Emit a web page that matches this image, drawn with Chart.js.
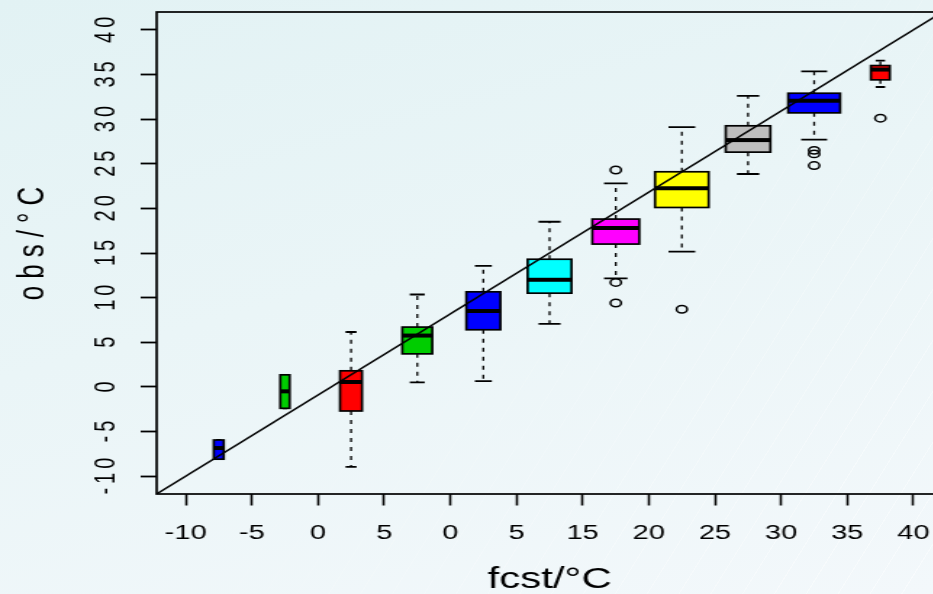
<!DOCTYPE html>
<html>
<head>
<meta charset="utf-8">
<script src="https://cdn.jsdelivr.net/npm/chart.js@4/dist/chart.umd.min.js"></script>
<style>
  html, body { margin: 0; padding: 0; width: 933px; height: 594px; overflow: hidden; }
  body { position: relative; background: linear-gradient(165deg, #e2f2f4 0%, #eaf5f7 45%, #f3f8fb 100%); }
  #streaks {
    position: absolute; left: 0; top: 0; width: 933px; height: 594px;
    background: repeating-linear-gradient(-58deg, rgba(255,255,255,0) 0 26px, rgba(255,255,255,0.45) 26px 27px);
    -webkit-mask-image: linear-gradient(135deg, rgba(0,0,0,0) 45%, rgba(0,0,0,1) 100%);
    mask-image: linear-gradient(135deg, rgba(0,0,0,0) 45%, rgba(0,0,0,1) 100%);
  }
  /* the original plot is stretched sideways, so draw narrow and scale it */
  #wrap { position: absolute; left: 0; top: 0; width: 660px; height: 594px; transform: scaleX(1.45); transform-origin: 0 0; }
</style>
</head>
<body>
<div id="streaks"></div>
<div id="wrap"><canvas id="canvas" width="660" height="594"></canvas></div>
<script>
// axis ticks (labels exactly as printed on the plot)
var xLabels = ['-10', '-5', '0', '5', '0', '5', '15', '20', '25', '30', '35', '40'];
var xTickVals = [-10, -5.45, -0.91, 3.64, 8.18, 12.73, 17.27, 21.82, 26.36, 30.91, 35.45, 40];
var yTickVals = [-10, -5, 0, 5, 10, 15, 20, 25, 30, 35, 40];

// one box per fcst class
var xCenters = [-7.73, -3.18, 1.36, 5.91, 10.45, 15.0, 19.55, 24.09, 28.64, 33.18, 37.73];
var lowW  = [-8.1, -2.4, -8.95, 0.5, 0.65, 7.05, 12.15, 15.15, 23.85, 27.7, 33.6];
var q1    = [-8.1, -2.4, -2.7, 3.7, 6.4, 10.5, 16.0, 20.1, 26.3, 30.7, 34.4];
var med   = [-6.85, -0.5, 0.55, 5.75, 8.5, 12.0, 17.8, 22.25, 27.65, 32.05, 35.55];
var q3    = [-5.95, 1.35, 1.8, 6.7, 10.65, 14.3, 18.8, 24.1, 29.25, 32.9, 36.0];
var highW = [-5.95, 1.35, 6.15, 10.35, 13.55, 18.5, 22.8, 29.1, 32.6, 35.35, 36.55];
var outliers = [[], [], [], [], [], [], [24.3, 11.7, 9.4], [8.7], [], [26.5, 26.1, 24.8], [30.1]];

// 1:1 reference line, drawn across the whole plot range
var axisRange = [-12, 42];

// looks
var boxWidths = [0.69, 0.64, 1.51, 2.06, 2.34, 3.02, 3.23, 3.68, 3.07, 3.57, 1.30];
var boxColors = ['#0000ff', '#00cd00', '#ff0000', '#00cd00', '#0000ff', '#00ffff', '#ff00ff', '#ffff00', '#bebebe', '#0000ff', '#ff0000'];

var outlierPts = [];
outliers.forEach(function(list, i) {
    list.forEach(function(v) { outlierPts.push({x: xCenters[i], y: v}); });
});

var boxPlugin = {
    id: 'boxes',
    beforeDraw: function(chart) {
        // R draws the rotated y text with extra letter spacing
        var ys = chart.scales.y;
        if (ys && !ys._spaced) {
            var dl = ys.drawLabels.bind(ys), dt = ys.drawTitle.bind(ys);
            ys.drawLabels = function(a) {
                var c = chart.ctx; c.save(); c.letterSpacing = '4px'; c.translate(0, -2); dl(a); c.restore();
            };
            ys.drawTitle = function() {
                var c = chart.ctx; c.save(); c.letterSpacing = '7px'; c.translate(0, -13); dt(); c.restore();
            };
            ys._spaced = true;
        }
    },
    beforeDatasetsDraw: function(chart) {
        var ctx = chart.ctx, x = chart.scales.x, y = chart.scales.y;
        ctx.save();
        for (var i = 0; i < xCenters.length; i++) {
            var cx = x.getPixelForValue(xCenters[i]);
            var half = (x.getPixelForValue(xCenters[i] + boxWidths[i] / 2) - x.getPixelForValue(xCenters[i] - boxWidths[i] / 2)) / 2;
            var yLo = y.getPixelForValue(lowW[i]), yQ1 = y.getPixelForValue(q1[i]);
            var yMed = y.getPixelForValue(med[i]), yQ3 = y.getPixelForValue(q3[i]);
            var yHi = y.getPixelForValue(highW[i]);

            ctx.strokeStyle = '#000';
            ctx.lineWidth = 1.3;
            ctx.setLineDash([4, 5]);
            ctx.beginPath();
            ctx.moveTo(cx, yQ3); ctx.lineTo(cx, yHi);
            ctx.moveTo(cx, yQ1); ctx.lineTo(cx, yLo);
            ctx.stroke();
            ctx.setLineDash([]);

            ctx.lineWidth = 1.8;
            ctx.beginPath();
            ctx.moveTo(cx - half / 2, yHi); ctx.lineTo(cx + half / 2, yHi);
            ctx.moveTo(cx - half / 2, yLo); ctx.lineTo(cx + half / 2, yLo);
            ctx.stroke();

            ctx.fillStyle = boxColors[i];
            ctx.fillRect(cx - half, yQ3, 2 * half, yQ1 - yQ3);
            ctx.lineWidth = 1.7;
            ctx.strokeRect(cx - half, yQ3, 2 * half, yQ1 - yQ3);

            ctx.lineWidth = 4;
            ctx.beginPath();
            ctx.moveTo(cx - half, yMed); ctx.lineTo(cx + half, yMed);
            ctx.stroke();
        }
        ctx.restore();
    },
    afterDraw: function(chart) {
        var a = chart.chartArea, ctx = chart.ctx;
        ctx.save();
        ctx.strokeStyle = '#000';
        ctx.lineWidth = 1.7;
        ctx.strokeRect(a.left, a.top, a.right - a.left, a.bottom - a.top);
        ctx.restore();
    }
};

const ctx = document.getElementById('canvas');
const myChart = new Chart(ctx, {
    type: 'scatter',
    data: {
        datasets: [{
            type: 'line',
            label: '1:1',
            data: axisRange.map(function(v) { return {x: v, y: v}; }),
            borderColor: '#000',
            borderWidth: 1.5,
            pointRadius: 0,
            fill: false
        }, {
            label: 'outliers',
            data: outlierPts,
            pointStyle: 'circle',
            pointRadius: 3.7,
            borderColor: '#000',
            borderWidth: 1.5,
            backgroundColor: 'rgba(0,0,0,0)'
        }]
    },
    options: {
        responsive: false,
        animation: false,
        devicePixelRatio: 1,
        layout: { padding: { top: 12, right: 10, bottom: 0, left: 0 } },
        plugins: { legend: { display: false }, tooltip: { enabled: false } },
        scales: {
            x: {
                type: 'linear',
                min: axisRange[0],
                max: axisRange[1],
                afterBuildTicks: function(s) { s.ticks = xTickVals.map(function(v) { return {value: v}; }); },
                afterFit: function(s) { s.height = 100; s.paddingLeft = 0; s.paddingRight = 0; },
                border: { display: false },
                grid: { drawOnChartArea: false, drawTicks: true, tickLength: 11.5, tickColor: '#000', tickWidth: 1.6 },
                ticks: {
                    autoSkip: false, maxRotation: 0, padding: 16, color: '#000',
                    font: { family: 'Liberation Sans', size: 20, lineHeight: 1.2 },
                    callback: function(v, i) { return xLabels[i]; }
                },
                title: {
                    display: true, text: 'fcst/°C', color: '#000',
                    font: { family: 'Liberation Sans', size: 29, lineHeight: 1 },
                    padding: { top: 0, bottom: 0 }
                }
            },
            y: {
                min: axisRange[0],
                max: axisRange[1],
                afterBuildTicks: function(s) { s.ticks = yTickVals.map(function(v) { return {value: v}; }); },
                afterFit: function(s) { s.width = 108; s.paddingTop = 0; s.paddingBottom = 0; },
                border: { display: false },
                grid: { drawOnChartArea: false, drawTicks: true, tickLength: 11, tickColor: '#000', tickWidth: 1.8 },
                ticks: {
                    minRotation: 90, maxRotation: 90, crossAlign: 'center', padding: 9, color: '#000',
                    font: { family: 'Liberation Sans', size: 20, lineHeight: 1.2 }
                },
                title: {
                    display: true, text: 'obs/°C', color: '#000',
                    font: { family: 'Liberation Sans', size: 26, lineHeight: 1 },
                    padding: { top: 10, bottom: 0 }
                }
            }
        }
    },
    plugins: [boxPlugin]
});
</script>
</body>
</html>
